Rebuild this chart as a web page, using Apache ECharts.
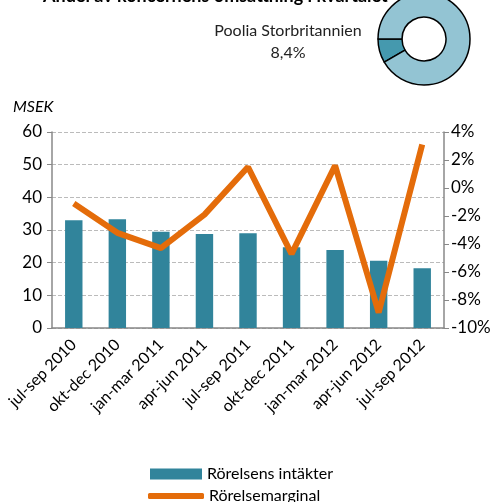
<!DOCTYPE html>
<html>
<head>
<meta charset="utf-8">
<script src="https://cdn.jsdelivr.net/npm/echarts@6/dist/echarts.min.js"></script>
<style>
  html, body { margin: 0; padding: 0; background: #fff; }
  #chart { width: 502px; height: 502px; }
</style>
</head>
<body>
<div id="chart"></div>
<script>
var categories = ['jul-sep 2010', 'okt-dec 2010', 'jan-mar 2011', 'apr-jun 2011', 'jul-sep 2011',
	'okt-dec 2011', 'jan-mar 2012', 'apr-jun 2012', 'jul-sep 2012'];
var intakter = [33.0, 33.3, 29.5, 28.8, 29.0, 24.7, 23.9, 20.6, 18.3];
var marginal = [-1.1, -3.2, -4.3, -1.9, 1.5, -4.7, 1.6, -8.9, 3.1];
var andel = [8.4, 91.6]; // Poolia Storbritannien, resten

var font = 'Lato, "Noto Sans", sans-serif';
var chart = echarts.init(document.getElementById('chart'));

chart.setOption({
	animation: false,
	textStyle: { fontFamily: font },
	title: [
		{ text: 'Andel av koncernens omsättning i kvartalet', left: 38, top: -18,
			textStyle: { fontFamily: font, fontSize: 18, fontWeight: 'bold', color: '#000' } },
		{ text: 'Poolia Storbritannien\n8,4%', left: 283, top: 15, textAlign: 'center',
			textStyle: { fontFamily: font, fontSize: 16, fontWeight: 'normal', color: '#222', lineHeight: 22 } },
		{ text: 'MSEK', left: 8, top: 94,
			textStyle: { fontFamily: font, fontSize: 16, fontStyle: 'italic', fontWeight: 'normal', color: '#000' } }
	],
	legend: [
		{ left: 145, top: 461, itemWidth: 52, itemHeight: 11, itemGap: 6,
			textStyle: { fontFamily: font, fontSize: 16, color: '#000' },
			data: [{ name: 'Rörelsens intäkter', icon: 'rect' }] },
		{ left: 143, top: 483, itemWidth: 56, itemHeight: 6, itemGap: 4,
			textStyle: { fontFamily: font, fontSize: 16, color: '#000' },
			data: [{ name: 'Rörelsemarginal', icon: 'roundRect' }] }
	],
	grid: { left: 52, right: 58, top: 132, bottom: 174, containLabel: false },
	xAxis: {
		type: 'category', data: categories,
		axisLine: { lineStyle: { color: '#888', width: 1.5 } },
		axisTick: { show: false },
		axisLabel: { rotate: 45, fontFamily: font, fontSize: 16, color: '#000', margin: 14, interval: 0 }
	},
	yAxis: [
		{ type: 'value', min: 0, max: 60, interval: 10,
			axisLine: { show: true, lineStyle: { color: '#888', width: 1.5 } },
			axisTick: { show: true, length: 5, lineStyle: { color: '#888' } },
			axisLabel: { fontFamily: font, fontSize: 17, color: '#000', margin: 10 },
			splitLine: { lineStyle: { color: '#bbb', type: 'dashed' } } },
		{ type: 'value', min: -10, max: 4, interval: 2, position: 'right',
			axisLine: { show: true, lineStyle: { color: '#888', width: 1.5 } },
			axisTick: { show: true, length: 5, lineStyle: { color: '#888' } },
			axisLabel: { fontFamily: font, fontSize: 17, color: '#000', margin: 7,
				formatter: function(v) { return v + '%'; } },
			splitLine: { show: false } }
	],
	series: [
		{ name: 'Rörelsens intäkter', type: 'bar', data: intakter, barWidth: '40%',
			itemStyle: { color: '#31849B' } },
		{ name: 'Rörelsemarginal', type: 'line', yAxisIndex: 1, data: marginal,
			symbol: 'none', lineStyle: { color: '#E46C0A', width: 6 }, itemStyle: { color: '#E46C0A' } },
		{ name: 'andel', type: 'pie', center: [424, 39], radius: [22, 46],
			startAngle: 180 + 360 * andel[0] / 100, clockwise: true,
			label: { show: false }, labelLine: { show: false }, silent: true,
			itemStyle: { borderColor: '#000', borderWidth: 1.5 },
			data: [
				{ value: andel[0], name: 'Poolia Storbritannien', itemStyle: { color: '#4599AE' } },
				{ value: andel[1], name: 'Övrigt', itemStyle: { color: '#93C4D3' } }
			] }
	]
});
</script>
</body>
</html>
